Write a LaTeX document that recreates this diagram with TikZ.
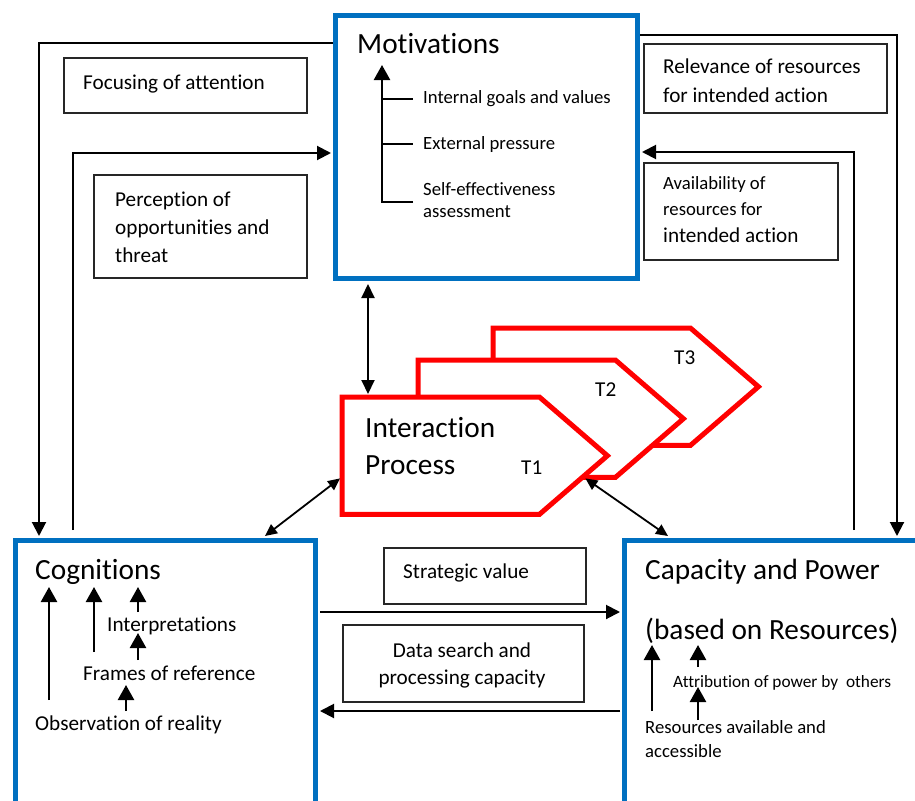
\documentclass[tikz,border=0pt]{standalone}
\usepackage{fontspec}
\setmainfont{Carlito}[Ligatures=NoCommon]
\usetikzlibrary{arrows.meta,calc}
\definecolor{boxblue}{RGB}{0,112,192}
\definecolor{procred}{RGB}{255,0,0}
\begin{document}
\begin{tikzpicture}[x=1pt,y=-1pt,
  bigbox/.style={draw=boxblue, line width=5pt, inner sep=0pt, anchor=north west},
  labelbox/.style={draw=black!85, line width=1.6pt, inner sep=0pt, anchor=north west},
  conn/.style={line width=2pt, -{Triangle[length=14pt,width=14pt]}},
  dconnbig/.style={line width=2pt, {Triangle[length=14pt,width=13pt]}-{Triangle[length=14pt,width=13pt]}},
  dconn/.style={line width=1.8pt, {Triangle[length=12pt,width=11pt]}-{Triangle[length=12pt,width=11pt]}},
  inarr/.style={line width=2.4pt, -{Triangle[length=15pt,width=16pt]}},
  tick/.style={line width=2pt},
  tshape/.style={draw=procred, line width=5pt, fill=white, line join=miter},
  tframe/.style={minimum width=197pt, minimum height=117pt, inner sep=0pt, anchor=north west},
  title/.style={font=\fontsize{29.3}{34}\selectfont, inner sep=0pt, anchor=base west},
  txt/.style={font=\fontsize{21.2}{26}\selectfont, inner sep=0pt, anchor=base west},
  small/.style={font=\fontsize{18.7}{22}\selectfont, inner sep=0pt, anchor=base west},
]
\useasboundingbox (0,0) rectangle (915,800);
\clip (0,0) rectangle (915,800);

% main blocks
\node[bigbox, minimum width=302pt, minimum height=263pt] (mot) at (333,13) {};
\node[bigbox, minimum width=300pt, minimum height=290pt] (cog) at (13,538) {};
\node[bigbox, minimum width=320pt, minimum height=290pt] (cap) at (622,538) {};

% label boxes on the connectors
\node[labelbox, minimum width=243pt, minimum height=55pt] (focus) at (63,57) {};
\node[labelbox, minimum width=213pt, minimum height=103pt] (percep) at (93,174) {};
\node[labelbox, minimum width=243pt, minimum height=69pt] (relev) at (643,43) {};
\node[labelbox, minimum width=194pt, minimum height=97pt] (avail) at (643,162) {};
\node[labelbox, minimum width=202pt, minimum height=56pt] (strat) at (383,547) {};
\node[labelbox, minimum width=241pt, minimum height=77pt] (datas) at (342,624) {};

\node[txt] (focusT) at (83,89) {Focusing of attention};
\node[txt] (percT1) at (115,206) {Perception of};
\node[txt] (percT2) at (115,234) {opportunities and};
\node[txt] (percT3) at (115,262) {threat};
\node[txt] (relT1) at (663,74) {Relevance of resources};
\node[txt] (relT2) at (663,102) {for intended action};
\node[small] (avT1) at (663,189) {Availability of};
\node[small] (avT2) at (663,215) {resources for};
\node[txt] (avT3) at (663,242) {intended action};
\node[txt] (stratT) at (403,578) {Strategic value};
\node[txt, anchor=base] (dataT1) at (462,657) {Data search and};
\node[txt, anchor=base] (dataT2) at (462,684) {processing capacity};

% interaction process, three time steps
\node[tframe] (t3) at (493,328) {};
\node[tframe] (t2) at (418,360) {};
\node[tframe] (t1) at (342,397) {};
\foreach \t in {t3,t2,t1}{
  \draw[tshape] (\t.north west) -- (\t.north east) -- ($(\t.east)+(68,0)$)
    -- (\t.south east) -- (\t.south west) -- cycle;
}
\node[txt] (lt3) at (674,364) {T3};
\node[txt] (lt2) at (595,396) {T2};
\node[title] (ipA) at (365,437) {Interaction};
\node[title] (ipB) at (365,474) {Process};
\node[txt] (lt1) at (521,474) {T1};

% Motivations contents
\node[title] (motT) at (357,53) {Motivations};
\node[small] (m1) at (423,103) {Internal goals and values};
\node[small] (m2) at (423,149) {External pressure};
\node[small] (m3) at (423,195) {Self-effectiveness};
\node[small] (m3b) at (423,217) {assessment};
\draw[inarr] (413,202) -- (382,202) -- (382,65);
\draw[tick] (382,99) -- (413,99);
\draw[tick] (382,144) -- (413,144);

% Cognitions contents
\node[title] (cogT) at (35,579) {Cognitions};
\node[txt] (c1) at (107,631) {Interpretations};
\node[txt] (c2) at (83,680) {Frames of reference};
\node[txt] (c3) at (35,730) {Observation of reality};
\draw[inarr] (49,700) -- (49,587);
\draw[inarr] (94,652) -- (94,587);
\draw[inarr] (138,612) -- (138,587);
\draw[inarr] (138,660) -- (138,633);
\draw[inarr] (126,711) -- (126,685);

% Capacity contents
\node[title] (capT1) at (645,579) {Capacity and Power};
\node[title] (capT2) at (645,639) {(based on Resources)};
\node[font=\fontsize{17.3}{21}\selectfont, inner sep=0pt, anchor=base west] (k1) at (673,687) {Attribution of power by\ \ others};
\node[small] (k2) at (645,733) {Resources available and};
\node[small] (k3) at (645,757) {accessible};
\draw[inarr] (652,711) -- (652,645);
\draw[inarr] (698,667) -- (698,645);
\draw[inarr] (698,720) -- (698,687);

% feedback loops
\draw[conn] ($(mot.north west)+(0,30)$) -| ($(cog.north west)+(26,-2)$);
\draw[conn] ($(cog.north west)+(60,-8)$) |- ($(mot.north west)+(-2,140)$);
\draw[conn] ($(mot.north east)+(0,22)$) -| ($(cap.north west)+(275,-2)$);
\draw[conn] ($(cap.north west)+(232,-8)$) |- ($(mot.north east)+(2,139)$);

% links with the interaction process
\draw[dconnbig] ($(mot.south west)+(35,3)$) -- ($(t1.north west)+(26,-3)$);
\draw[dconn] ($(t1.south west)+(-2,-36)$) -- ($(cog.north west)+(252,-2)$);
\draw[dconn] ($(t1.south east)+(46,-36)$) -- ($(cap.north west)+(46,-2)$);

% exchange between cognitions and capacity
\draw[conn] ($(cog.north east)+(2,74)$) -- ($(cap.north west)+(-2,74)$);
\draw[conn] ($(cap.north west)+(-2,173)$) -- ($(cog.north east)+(2,173)$);
\end{tikzpicture}
\end{document}
